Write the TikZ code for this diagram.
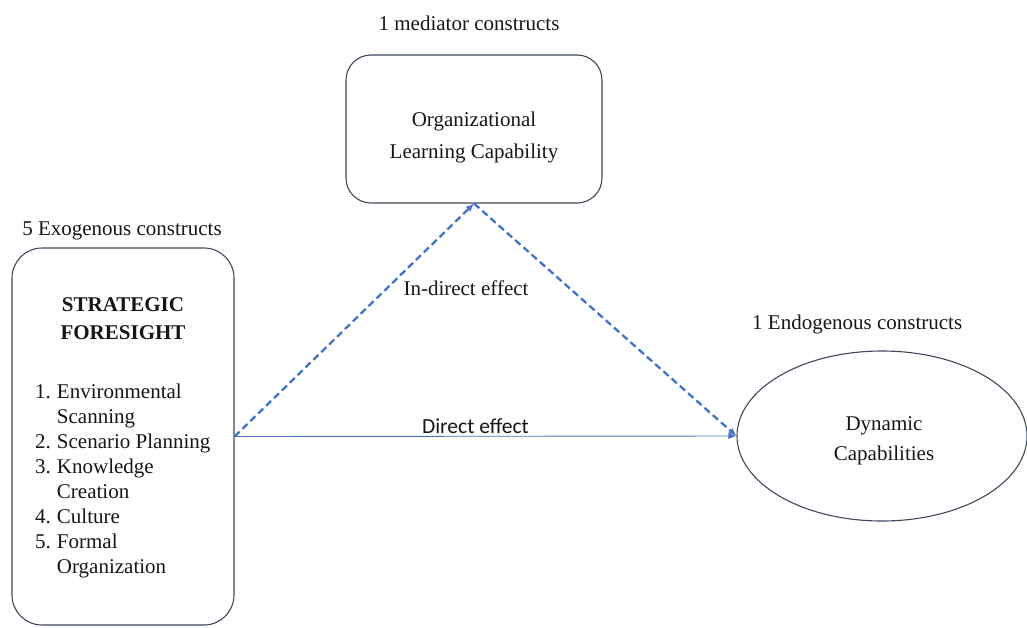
\documentclass[tikz,border=0pt]{standalone}
\usepackage{fontspec}
\setmainfont{Liberation Serif}
\newfontfamily\calibrifont{Carlito}
\usetikzlibrary{arrows.meta,positioning,shapes.geometric}
\definecolor{EdgeBlue}{RGB}{68,114,196}
\definecolor{BoxGray}{RGB}{62,72,92}
\definecolor{InkGray}{RGB}{22,22,22}
\tikzset{
  construct/.style={draw=BoxGray, rounded corners=30pt, line width=1.1pt,
    inner sep=0pt, text=InkGray},
  latent/.style={draw=BoxGray, ellipse, line width=1.1pt, inner sep=0pt},
  grouplabel/.style={text=InkGray, inner sep=0pt, font=\fontsize{21}{25}\selectfont},
  indirect/.style={-{Latex[length=8pt,width=7pt]}, EdgeBlue, line width=2.3pt,
    dash pattern=on 7pt off 4pt},
  direct/.style={-{Latex[length=8pt,width=6pt]}, EdgeBlue, line width=0.9pt}
}
\begin{document}
\begin{tikzpicture}[x=1pt, y=-1pt]
  \useasboundingbox (0,0) rectangle (1027,627);
  \node[construct, minimum width=222pt, minimum height=377pt] (sf) at (123,436.5) {};
  \node[grouplabel, font=\bfseries\fontsize{21}{28}\selectfont, align=center,
    below=50pt of sf.north] (sftitle) {STRATEGIC\\FORESIGHT};
  \node[grouplabel, anchor=north west] (sflist) at (35,380.5) {\begin{tabular}{@{}l@{\hspace{6pt}}l@{}}
    1. & Environmental\\ & Scanning\\ 2. & Scenario Planning\\ 3. & Knowledge\\
    & Creation\\ 4. & Culture\\ 5. & Formal\\ & Organization\end{tabular}};
  \node[grouplabel, anchor=base] (exo) at (122,235) {5 Exogenous constructs};
  \node[construct, rounded corners=25pt, minimum width=256pt, minimum height=148pt]
    (olc) at (474,129) {};
  \node[grouplabel, align=center, font=\fontsize{21}{32}\selectfont] (olctext)
    at (474,137) {Organizational\\Learning Capability};
  \node[grouplabel, anchor=base] (med) at (469,30) {1 mediator constructs};
  \node[latent, minimum width=290pt, minimum height=170pt] (dyn) at (882,436) {};
  \node[grouplabel, align=center, font=\fontsize{21}{30}\selectfont] (dyntext)
    at (884,441) {Dynamic\\Capabilities};
  \node[grouplabel, anchor=base west] (endo) at (752,329) {1 Endogenous constructs};
  \draw[indirect] (sf.east) -- (olc.south);
  \draw[indirect] (olc.south) -- (dyn.west);
  \draw[direct] (sf.east) -- node[above=2pt, pos=0.48, inner sep=0pt, text=InkGray,
    font=\calibrifont\fontsize{21.5}{25}\selectfont] (de) {Direct effect} (dyn.west);
  \node[grouplabel, anchor=base] (ide) at (466,295) {In-direct effect};
\end{tikzpicture}
\end{document}
